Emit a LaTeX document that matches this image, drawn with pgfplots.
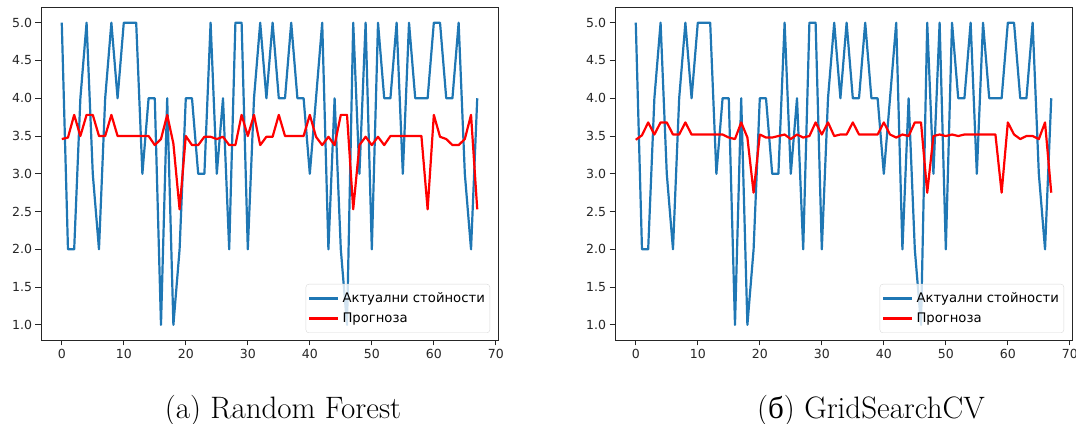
\documentclass[border=0pt]{standalone}
\usepackage{fontspec}
\usepackage{pgfplots}
\usepackage{pgfplotstable}
\pgfplotsset{compat=1.18}
\newfontfamily\dejavu{DejaVu Sans}
\newfontfamily\cyrserif{Liberation Serif}
\definecolor{mplblue}{HTML}{1F77B4}
\definecolor{mpltext}{HTML}{262626}

\pgfplotstableread{
x actual rf gs
0 5 3.46 3.45
1 2 3.48 3.51
2 2 3.78 3.68
3 4 3.50 3.52
4 5 3.78 3.68
5 3 3.78 3.68
6 2 3.50 3.52
7 4 3.50 3.52
8 5 3.78 3.68
9 4 3.50 3.52
10 5 3.50 3.52
11 5 3.50 3.52
12 5 3.50 3.52
13 3 3.50 3.52
14 4 3.50 3.52
15 4 3.38 3.48
16 1 3.46 3.46
17 4 3.78 3.68
18 1 3.40 3.48
19 2 2.53 2.75
20 4 3.50 3.52
21 4 3.38 3.48
22 3 3.38 3.48
23 3 3.49 3.50
24 5 3.49 3.52
25 3 3.46 3.46
26 4 3.49 3.52
27 2 3.38 3.48
28 5 3.38 3.50
29 5 3.78 3.68
30 2 3.50 3.52
31 4 3.78 3.68
32 5 3.38 3.50
33 4 3.49 3.52
34 5 3.49 3.52
35 4 3.78 3.68
36 4 3.50 3.52
37 5 3.50 3.52
38 4 3.50 3.52
39 4 3.50 3.52
40 3 3.78 3.68
41 4 3.49 3.52
42 5 3.38 3.48
43 2 3.49 3.52
44 4 3.38 3.50
45 2 3.78 3.68
46 1 3.78 3.68
47 5 2.53 2.75
48 3 3.38 3.50
49 5 3.49 3.52
50 2 3.38 3.50
51 5 3.49 3.52
52 4 3.38 3.50
53 4 3.50 3.52
54 5 3.50 3.52
55 3 3.50 3.52
56 5 3.50 3.52
57 4 3.50 3.52
58 4 3.50 3.52
59 4 2.53 2.75
60 5 3.78 3.68
61 5 3.49 3.52
62 4 3.46 3.46
63 4 3.38 3.50
64 5 3.38 3.50
65 3 3.46 3.46
66 2 3.78 3.68
67 4 2.53 2.75
}\datatable

\pgfplotsset{
  panel/.style={
    anchor=south west,
    scale only axis,
    width=457pt, height=332.4pt,
    xmin=-3.35, xmax=70.35,
    ymin=0.8, ymax=5.2,
    xtick={0,10,...,70},
    ytick={1,1.5,...,5},
    yticklabel style={/pgf/number format/.cd, fixed, fixed zerofill, precision=1},
    /pgf/number format/assume math mode=true,
    tick label style={font=\dejavu\fontsize{12.5}{14}\selectfont, text=mpltext},
    tick align=outside,
    xtick pos=lower, ytick pos=left,
    major tick length=5.5pt,
    every tick/.style={mpltext, line width=0.8pt},
    axis line style={mpltext, line width=0.8pt},
    legend style={
      at={(1,0)}, anchor=south east, xshift=-8pt, yshift=7pt,
      font=\dejavu\fontsize{13.2}{15}\selectfont,
      draw=black!15, rounded corners=3pt, fill=white, fill opacity=0.8, text opacity=1,
      inner xsep=2pt, inner ysep=5.5pt, row sep=3pt,
      nodes={inner sep=3pt},
    },
    legend cell align=left,
    legend image code/.code={\draw[#1, line width=2.6pt] (0pt,0pt) -- (29pt,0pt);},
  },
}

\begin{document}
\begin{tikzpicture}
\useasboundingbox (0,0) rectangle (1076pt,423pt);
\begin{axis}[panel, at={(41pt,83pt)}]
\addplot[mplblue, line width=2.2pt, line join=round] table[x=x, y=actual] {\datatable};
\addlegendentry{Актуални стойности}
\addplot[red, line width=2.2pt, line join=round] table[x=x, y=rf] {\datatable};
\addlegendentry{Прогноза}
\end{axis}
\begin{axis}[panel, at={(615pt,83pt)}]
\addplot[mplblue, line width=2.2pt, line join=round] table[x=x, y=actual] {\datatable};
\addlegendentry{Актуални стойности}
\addplot[red, line width=2.2pt, line join=round] table[x=x, y=gs] {\datatable};
\addlegendentry{Прогноза}
\end{axis}
\node[anchor=base, inner sep=0pt] at (283pt,5pt) {\fontsize{31}{33}\selectfont (a) Random Forest};
\node[anchor=base, inner sep=0pt] at (871pt,5pt) {\fontsize{31}{33}\selectfont ({\cyrserif б}) GridSearchCV};
\end{tikzpicture}
\end{document}
